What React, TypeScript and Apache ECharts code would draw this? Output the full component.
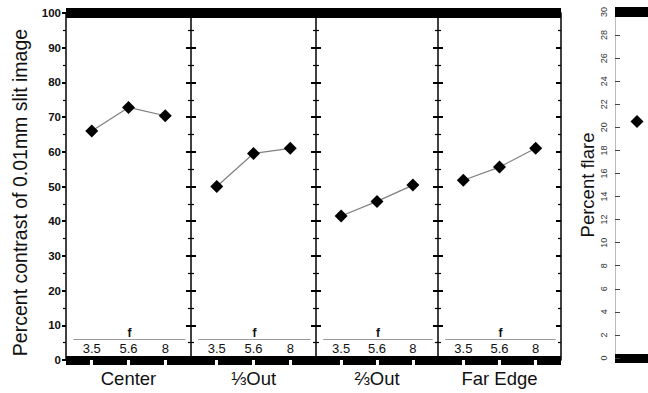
import React, { useEffect, useRef } from "react";
import * as echarts from "echarts";

const panelNames = ["Center", "\u2153Out", "\u2154Out", "Far Edge"];
const fStops = ["3.5", "5.6", "8"];
const contrastCenter = [66, 72.8, 70.4];
const contrastThirdOut = [50, 59.5, 61];
const contrastTwoThirdsOut = [41.5, 45.7, 50.4];
const contrastFarEdge = [51.8, 55.6, 61];
const flareCenter = [20.5];
const contrastSeries = [contrastCenter, contrastThirdOut, contrastTwoThirdsOut, contrastFarEdge];

const FONT = "'Liberation Sans', Arial, Helvetica, sans-serif";

export default function App() {
  const ref = useRef<HTMLDivElement>(null);
  useEffect(() => {
    if (!ref.current) return;
    const chart = echarts.init(ref.current, null, { renderer: "svg" });
    const lefts = [66, 191, 316, 438];
    const widths = [125, 125, 122, 123];
    const top = 13;
    const height = 352;
    const fIdx = fStops.map((_, i) => i + 1);

    const grid: any[] = [];
    const xAxis: any[] = [];
    const yAxis: any[] = [];
    const series: any[] = [];

    for (let i = 0; i < 4; i++) {
      grid.push({ left: lefts[i], top, width: widths[i], height });
      xAxis.push({
        type: "value", gridIndex: i, min: 0.3, max: 3.7, position: "bottom",
        axisLine: { show: true, lineStyle: { color: "#000", width: 9, cap: "butt" } },
        axisTick: { show: true, customValues: fIdx, inside: false, length: 5, lineStyle: { color: "#fff", width: 3 } },
        axisLabel: {
          show: true, inside: true, customValues: fIdx, margin: 5, fontSize: 13, color: "#111",
          fontFamily: FONT, formatter: (v: number) => fStops[Math.round(v) - 1] ?? "",
        },
        splitLine: { show: false },
        name: panelNames[i], nameLocation: "middle", nameGap: 9,
        nameTextStyle: { fontSize: 18.5, color: "#111", fontFamily: FONT },
      });
      xAxis.push({
        type: "value", gridIndex: i, min: 0.3, max: 3.7, position: "top", offset: -height,
        axisLine: { show: false },
        axisTick: { show: true, customValues: fIdx, inside: false, length: 5, lineStyle: { color: "#fff", width: 3 } },
        axisLabel: { show: false },
        splitLine: { show: false },
      });
      yAxis.push({
        type: "value", gridIndex: i, min: 0, max: 100, interval: 10, position: "left",
        axisLine: { show: true, lineStyle: { color: "#000", width: 1.5 } },
        axisTick: { show: true, inside: false, length: i === 0 ? 4 : 5, lineStyle: { color: "#000", width: 2 } },
        minorTick: { show: true, splitNumber: 2, length: 3, lineStyle: { color: "#000", width: 1.2 } },
        axisLabel: { show: i === 0, margin: 5, fontSize: 11.5, fontWeight: "bold", color: "#111", fontFamily: FONT },
        splitLine: { show: false },
        minorSplitLine: { show: false },
        name: i === 0 ? "Percent contrast of 0.01mm slit image" : "",
        nameLocation: "middle", nameGap: 36,
        nameTextStyle: { fontSize: 19.5, color: "#111", fontFamily: FONT, padding: [0, 12, 0, 0] },
      });
      yAxis.push({
        type: "value", gridIndex: i, min: 0, max: 100, interval: 10, position: "right",
        axisLine: { show: i === 3, lineStyle: { color: "#000", width: 1.5 } },
        axisTick: { show: true, inside: i === 3, length: 5, lineStyle: { color: "#000", width: 2 } },
        minorTick: { show: true, splitNumber: 2, length: 3, lineStyle: { color: "#000", width: 1.2 } },
        axisLabel: { show: false },
        splitLine: { show: false },
        minorSplitLine: { show: false },
      });
      series.push({
        type: "line", xAxisIndex: 2 * i, yAxisIndex: 2 * i, clip: false,
        data: contrastSeries[i].map((v, j) => [j + 1, v]),
        symbol: "diamond", symbolSize: 13,
        itemStyle: { color: "#000" },
        lineStyle: { color: "#7f7f7f", width: 1.2 },
        markLine: {
          silent: true, symbol: "none", animation: false,
          data: [
            [
              { coord: [0.5, 6], label: { show: true, formatter: "f", position: "middle", distance: 0, fontSize: 12, fontWeight: "bold", color: "#111", fontFamily: FONT }, lineStyle: { color: "#9a9a9a", width: 1, type: "solid" } },
              { coord: [3.55, 6] },
            ],
            { yAxis: 100, label: { show: false }, lineStyle: { color: "#000", width: 10, type: "solid", cap: "butt" } },
          ],
        },
      });
    }

    // flare panel (clipped by the window's right edge)
    grid.push({ left: 615, top: 12, right: 0, height: 346 });
    xAxis.push({
      type: "value", gridIndex: 4, min: 0.3, max: 1.35, position: "bottom",
      axisLine: { show: true, lineStyle: { color: "#000", width: 9, cap: "butt" } },
      axisTick: { show: false }, axisLabel: { show: false }, splitLine: { show: false },
    });
    yAxis.push({
      type: "value", gridIndex: 4, min: 0, max: 30, interval: 2, position: "left",
      axisLine: { show: true, lineStyle: { color: "#bbb", width: 1 } },
      axisTick: { show: true, inside: true, length: 5, lineStyle: { color: "#444", width: 1 } },
      axisLabel: { show: true, rotate: 90, margin: 7, fontSize: 9, color: "#333", fontFamily: FONT },
      splitLine: { show: false },
      name: "Percent flare", nameLocation: "middle", nameGap: 18,
      nameTextStyle: { fontSize: 18.5, color: "#111", fontFamily: FONT },
    });
    series.push({
      type: "line", xAxisIndex: 8, yAxisIndex: 8, clip: false,
      data: flareCenter.map((v, j) => [j + 1, v]),
      symbol: "diamond", symbolSize: 13,
      itemStyle: { color: "#000" },
      lineStyle: { color: "#7f7f7f", width: 1.2 },
      markLine: {
        silent: true, symbol: "none", animation: false,
        data: [{ yAxis: 30, label: { show: false }, lineStyle: { color: "#000", width: 10, type: "solid", cap: "butt" } }],
      },
    });

    chart.setOption({
      animation: false,
      backgroundColor: "#fff",
      textStyle: { fontFamily: FONT },
      grid, xAxis, yAxis, series,
    });
    return () => chart.dispose();
  }, []);
  return (
    <div
      ref={ref}
      style={{ position: "fixed", left: 0, top: 0, width: 648, height: 393, background: "#fff" }}
    />
  );
}
